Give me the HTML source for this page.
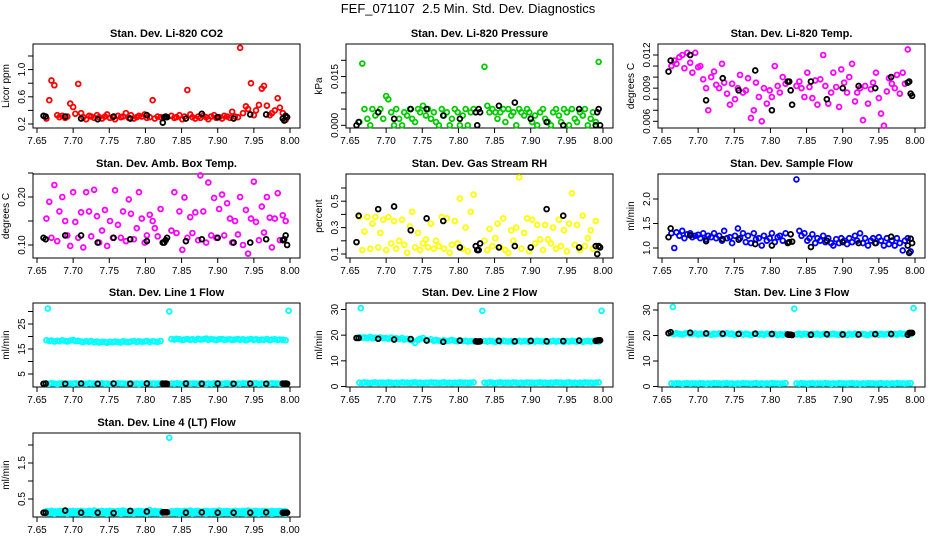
<!DOCTYPE html>
<html><head><meta charset="utf-8"><style>
html,body{margin:0;padding:0;background:#fff;}
svg{display:block;font-family:"Liberation Sans",Helvetica,sans-serif;}
</style></head><body>
<svg id="fig" width="936" height="540" viewBox="0 0 936 540" xmlns="http://www.w3.org/2000/svg">
<rect width="936" height="540" fill="#fff"/>
<text x="468" y="13" text-anchor="middle" font-size="13">FEF_071107&#160; 2.5 Min. Std. Dev. Diagnostics</text>
</svg>
<script>
const TIMES = [7.663,7.667,7.670,7.674,7.678,7.681,7.685,7.689,7.692,7.696,7.700,7.703,7.707,7.711,7.714,7.718,7.722,7.725,7.729,7.733,7.736,7.740,7.744,7.747,7.751,7.755,7.758,7.762,7.766,7.769,7.773,7.777,7.780,7.784,7.788,7.791,7.795,7.799,7.802,7.806,7.810,7.813,7.817,7.821,
7.836,7.840,7.843,7.847,7.851,7.854,7.858,7.862,7.865,7.869,7.873,7.876,7.880,7.884,7.887,7.891,7.895,7.898,7.902,7.906,7.909,7.913,7.917,7.920,7.924,7.928,7.931,7.935,7.939,7.942,7.946,7.950,7.953,7.957,7.961,7.964,7.968,7.972,7.975,7.979,7.983,7.986,7.990,7.994];
const CAL_TIMES = [7.659,7.662,7.689,7.711,7.734,7.756,7.779,7.802,7.824,7.826,7.828,7.830,7.856,7.878,7.900,7.922,7.945,7.967,7.990,7.992,7.994,7.996];
const X_TICKS = [7.65,7.70,7.75,7.80,7.85,7.90,7.95,8.00];
const X_LABELS = ["7.65","7.70","7.75","7.80","7.85","7.90","7.95","8.00"];

const CO2 = [0.28,0.55,0.84,0.77,0.33,0.30,0.32,0.29,0.31,0.50,0.45,0.35,0.79,0.36,0.30,0.27,0.32,0.31,0.29,0.33,0.30,0.28,0.31,0.34,0.29,0.30,0.27,0.32,0.30,0.31,0.36,0.29,0.33,0.28,0.30,0.32,0.31,0.34,0.29,0.30,0.55,0.28,0.31,0.30,
0.32,0.29,0.30,0.33,0.27,0.31,0.70,0.34,0.30,0.28,0.31,0.29,0.32,0.30,0.27,0.31,0.33,0.29,0.30,0.28,0.32,0.31,0.29,0.38,0.31,0.30,1.32,0.36,0.46,0.42,0.80,0.33,0.40,0.48,0.72,0.76,0.47,0.33,0.36,0.40,0.58,0.44,0.36,0.26];
const CO2_CAL = [0.32,0.31,0.31,0.28,0.27,0.31,0.28,0.33,0.22,0.30,0.31,0.30,0.28,0.35,0.30,0.28,0.34,0.34,0.28,0.25,0.32,0.30];
const CO2_TICKS = [0.2,0.4,0.6,0.8,1.0,1.2];
const CO2_LABELS = ["0.2","","0.6","","1.0",""];

const PRES = [0.001,0.019,0.005,0.002,0.000,0.005,0.003,0.004,0.005,0.002,0.009,0.008,0.004,0.000,0.005,0.002,0.000,0.004,0.003,0.005,0.002,0.001,0.005,0.004,0.006,0.003,0.005,0.002,0.004,0.001,0.000,0.005,0.003,0.004,0.000,0.002,0.005,0.004,0.000,0.003,0.005,0.000,0.004,0.005,
0.018,0.006,0.004,0.005,0.004,0.002,0.004,0.005,0.001,0.005,0.003,0.004,0.000,0.005,0.004,0.003,0.005,0.004,0.001,0.003,0.000,0.004,0.005,0.002,0.001,0.000,0.004,0.005,0.003,0.001,0.005,0.004,0.000,0.005,0.002,0.001,0.004,0.003,0.005,0.000,0.002,0.004,0.001,0.0195];
const PRES_CAL = [0.000,0.001,0.004,0.002,0.005,0.005,0.003,0.002,0.004,0.000,0.005,0.004,0.006,0.007,0.002,0.001,0.000,0.005,0.000,0.004,0.005,0.000];
const PRES_TICKS = [0,0.005,0.010,0.015,0.020];
const PRES_LABELS = ["0.000","","","0.015",""];

const TEMP = [0.0110,0.0115,0.0112,0.0118,0.0120,0.0108,0.0122,0.0113,0.0104,0.0122,0.0109,0.0110,0.0098,0.0090,0.0070,0.0100,0.0105,0.0093,0.0090,0.0112,0.0095,0.0085,0.0075,0.0094,0.0080,0.0090,0.0102,0.0086,0.0088,0.0099,0.0063,0.0070,0.0095,0.0082,0.0060,0.0090,0.0076,0.0088,0.0082,0.0110,0.0092,0.0086,0.0100,0.0094,
0.0092,0.0096,0.0090,0.0082,0.0104,0.0091,0.0081,0.0097,0.0075,0.0098,0.0120,0.0092,0.0076,0.0086,0.0104,0.0091,0.0073,0.0107,0.0095,0.0086,0.0100,0.0112,0.0078,0.0086,0.0090,0.0061,0.0092,0.0076,0.0089,0.0095,0.0104,0.0081,0.0067,0.0056,0.0087,0.0099,0.0094,0.0090,0.0102,0.0085,0.0104,0.0094,0.0125,0.0085];
const TEMP_CAL = [0.0105,0.0115,0.0120,0.0079,0.0099,0.0088,0.0106,0.0070,0.0096,0.0096,0.0088,0.0075,0.0096,0.0080,0.0090,0.0092,0.0090,0.0100,0.0095,0.0096,0.0085,0.0083];
const TEMP_TICKS = [0.006,0.007,0.008,0.009,0.010,0.011,0.012];
const TEMP_LABELS = ["0.006","","","0.009","","","0.012"];

const AMB = [0.155,0.19,0.115,0.225,0.108,0.17,0.20,0.15,0.12,0.098,0.21,0.148,0.115,0.168,0.095,0.21,0.17,0.118,0.215,0.16,0.105,0.13,0.173,0.098,0.15,0.115,0.214,0.142,0.115,0.17,0.108,0.195,0.165,0.112,0.135,0.21,0.155,0.105,0.12,0.163,0.15,0.135,0.118,0.175,
0.13,0.21,0.125,0.17,0.09,0.199,0.115,0.158,0.125,0.168,0.11,0.245,0.17,0.105,0.23,0.12,0.198,0.115,0.175,0.205,0.12,0.187,0.155,0.105,0.15,0.122,0.2,0.10,0.173,0.082,0.155,0.232,0.148,0.11,0.18,0.126,0.2,0.157,0.095,0.155,0.208,0.11,0.162,0.15];
const AMB_CAL = [0.115,0.112,0.12,0.12,0.105,0.115,0.112,0.108,0.105,0.105,0.11,0.115,0.108,0.112,0.115,0.105,0.105,0.112,0.11,0.112,0.12,0.10];
const AMB_TICKS = [0.10,0.15,0.20,0.25];
const AMB_LABELS = ["0.10","","0.20",""];

const RH = [0.38,0.13,0.27,0.38,0.14,0.33,0.38,0.15,0.26,0.36,0.13,0.38,0.18,0.35,0.14,0.20,0.36,0.17,0.11,0.31,0.42,0.15,0.26,0.13,0.18,0.21,0.15,0.33,0.14,0.20,0.16,0.38,0.14,0.37,0.11,0.17,0.35,0.18,0.52,0.14,0.30,0.12,0.42,0.55,
0.20,0.13,0.29,0.16,0.22,0.33,0.15,0.37,0.13,0.11,0.28,0.20,0.30,0.68,0.14,0.26,0.37,0.12,0.36,0.18,0.32,0.21,0.13,0.32,0.21,0.18,0.30,0.14,0.36,0.16,0.28,0.12,0.33,0.56,0.17,0.32,0.13,0.39,0.16,0.22,0.28,0.14,0.35,0.15];
const RH_CAL = [0.19,0.39,0.44,0.46,0.28,0.37,0.35,0.15,0.16,0.13,0.13,0.18,0.15,0.16,0.15,0.44,0.39,0.15,0.16,0.10,0.16,0.15];
const RH_TICKS = [0.1,0.2,0.3,0.4,0.5,0.6];
const RH_LABELS = ["0.1","","0.3","","0.5",""];

const SFLOW = [1.3,1.0,1.32,1.25,1.35,1.2,1.28,1.3,1.22,1.25,1.27,1.2,1.3,1.18,1.25,1.22,1.3,1.2,1.25,1.15,1.35,1.2,1.22,1.1,1.25,1.4,1.2,1.3,1.12,1.25,1.1,1.3,1.18,1.2,1.05,1.25,1.15,1.2,1.3,1.12,1.22,1.25,1.15,1.3,
2.4,1.35,1.25,1.3,1.15,1.2,1.28,1.1,1.2,1.15,1.25,1.12,1.2,1.1,1.05,1.18,1.1,1.2,1.15,1.08,1.2,1.12,1.25,1.15,1.3,1.1,1.2,1.05,1.15,1.2,1.1,1.22,1.15,1.05,1.2,1.08,1.15,1.05,1.2,1.1,0.95,1.15,1.2,0.93];
const SFLOW_CAL = [1.22,1.4,1.26,1.14,1.18,1.17,1.08,1.05,1.1,1.12,1.28,1.13,1.02,1.15,1.12,1.1,1.1,1.23,1.05,0.9,1.19,1.1];
const SFLOW_TICKS = [1.0,1.5,2.0];
const SFLOW_LABELS = ["1.0","1.5","2.0"];

const L1_HI = [18.5,18.2,18.4,18.0,18.3,18.1,18.5,18.2,18.0,18.4,18.6,18.2,18.3,18.0,17.8,18.1,17.9,18.2,17.7,18.0,17.6,17.9,17.8,17.5,17.9,17.7,18.0,17.8,17.6,18.1,17.9,17.7,18.0,18.2,17.8,18.1,17.9,18.0,18.2,17.8,18.1,18.0,17.9,18.2,
19.0,18.8,19.1,18.9,18.6,18.8,19.0,18.7,18.9,18.6,19.1,18.8,18.9,19.2,18.7,19.0,18.8,18.6,18.9,19.0,18.7,18.8,18.9,18.6,18.8,19.0,18.7,18.9,18.5,18.8,19.0,18.7,18.9,18.6,18.8,18.7,19.0,18.5,18.8,18.9,18.6,18.8,18.7,18.5];
const L1_LO = [1.2,1.1,1.3,1.2,1.0,1.2,1.3,1.1,1.2,1.2,1.1,1.3,1.2,1.0,1.2,1.1,1.3,1.2,1.2,1.1,1.2,1.3,1.1,1.2,1.0,1.2,1.1,1.3,1.2,1.2,1.1,1.2,1.3,1.1,1.2,1.0,1.2,1.1,1.3,1.2,1.2,1.1,1.2,1.3,
1.2,1.1,1.3,1.2,1.0,1.2,1.3,1.1,1.2,1.2,1.1,1.3,1.2,1.0,1.2,1.1,1.3,1.2,1.2,1.1,1.2,1.3,1.1,1.2,1.0,1.2,1.1,1.3,1.2,1.2,1.1,1.2,1.3,1.1,1.2,1.0,1.2,1.1,1.3,1.2,1.2,1.1,1.2,1.3];
const L1_OUT_T = [7.665,7.833,7.998];
const L1_OUT_V = [31.2,30.0,30.3];
const L1_CAL = [1.1,1.2,1.1,1.2,1.1,1.2,1.1,1.2,1.2,1.1,1.2,1.1,1.2,1.1,1.2,1.1,1.2,1.1,1.2,1.1,1.2,1.1];
const L1_TICKS = [5,10,15,20,25,30];
const L1_LABELS = ["5","","15","","25",""];

const L2_HI = [19.2,19.0,19.1,18.9,19.3,18.8,19.0,18.7,19.1,18.8,18.9,18.6,19.0,18.7,18.8,18.5,18.9,18.3,18.6,18.2,17.9,17.0,18.1,18.6,18.9,18.2,18.0,18.4,17.8,18.1,17.9,17.6,18.0,17.7,17.9,18.1,17.8,17.6,17.9,17.7,17.8,17.5,17.7,17.6,
17.7,17.5,17.8,17.6,17.4,17.7,17.5,17.8,17.6,17.5,17.7,17.4,17.6,17.8,17.5,17.7,17.6,17.4,17.7,17.5,17.8,17.6,17.5,17.7,17.4,17.6,17.8,17.5,17.7,17.6,17.4,17.7,17.5,17.8,17.6,17.5,17.7,17.4,17.6,17.8,17.5,17.7,17.6,17.5];
const L2_LO = [1.5,1.4,1.6,1.5,1.3,1.5,1.6,1.4,1.5,1.5,1.4,1.6,1.5,1.3,1.5,1.4,1.6,1.5,1.5,1.4,1.5,1.6,1.4,1.5,1.3,1.5,1.4,1.6,1.5,1.5,1.4,1.5,1.6,1.4,1.5,1.3,1.5,1.4,1.6,1.5,1.5,1.4,1.5,1.6,
1.5,1.4,1.6,1.5,1.3,1.5,1.6,1.4,1.5,1.5,1.4,1.6,1.5,1.3,1.5,1.4,1.6,1.5,1.5,1.4,1.5,1.6,1.4,1.5,1.3,1.5,1.4,1.6,1.5,1.5,1.4,1.5,1.6,1.4,1.5,1.3,1.5,1.4,1.6,1.5,1.5,1.4,1.5,1.6];
const L2_OUT_T = [7.665,7.833,7.998];
const L2_OUT_V = [30.5,29.5,29.5];
const L2_CAL = [18.9,18.9,18.6,18.3,18.5,17.9,17.4,17.9,17.6,17.5,17.5,17.6,17.8,17.6,17.8,17.6,17.7,17.9,17.8,17.9,18.0,18.0];
const L23_TICKS = [0,10,20,30];
const L23_LABELS = ["0","10","20","30"];

const L3_HI = [20.8,20.5,20.9,20.6,20.4,20.7,20.9,20.5,20.6,20.8,20.4,20.7,20.5,20.9,20.6,20.3,20.7,20.5,20.8,20.4,20.6,20.9,20.5,20.7,20.3,20.6,20.8,20.4,20.7,20.5,20.2,20.6,20.8,20.4,20.6,20.3,20.7,20.5,20.4,20.6,20.2,20.5,20.3,20.6,
20.4,20.7,20.3,20.6,20.5,20.2,20.6,20.4,20.7,20.3,20.5,20.6,20.2,20.5,20.7,20.4,20.3,20.6,20.5,20.2,20.6,20.4,20.7,20.3,20.5,20.6,20.4,20.2,20.6,20.5,20.7,20.3,20.6,20.4,20.5,20.7,20.3,20.6,20.4,20.8,20.5,20.6,20.7,20.5];
const L3_LO = [1.2,1.1,1.3,1.2,1.0,1.2,1.3,1.1,1.2,1.2,1.1,1.3,1.2,1.0,1.2,1.1,1.3,1.2,1.2,1.1,1.2,1.3,1.1,1.2,1.0,1.2,1.1,1.3,1.2,1.2,1.1,1.2,1.3,1.1,1.2,1.0,1.2,1.1,1.3,1.2,1.2,1.1,1.2,1.3,
1.2,1.1,1.3,1.2,1.0,1.2,1.3,1.1,1.2,1.2,1.1,1.3,1.2,1.0,1.2,1.1,1.3,1.2,1.2,1.1,1.2,1.3,1.1,1.2,1.0,1.2,1.1,1.3,1.2,1.2,1.1,1.2,1.3,1.1,1.2,1.0,1.2,1.1,1.3,1.2,1.2,1.1,1.2,1.3];
const L3_OUT_T = [7.665,7.833,7.998];
const L3_OUT_V = [31.2,30.5,30.7];
const L3_CAL = [20.9,21.3,21.1,20.8,20.7,20.6,20.7,20.6,20.4,20.3,20.3,20.2,20.3,20.5,20.4,20.4,20.5,20.6,20.3,21.0,21.0,21.0];

const L4_HI = [0.16,0.15,0.17,0.16,0.15,0.17,0.16,0.18,0.15,0.16,0.17,0.15,0.16,0.17,0.16,0.15,0.17,0.16,0.18,0.15,0.16,0.17,0.15,0.16,0.17,0.16,0.15,0.17,0.16,0.18,0.15,0.16,0.17,0.15,0.16,0.17,0.16,0.15,0.17,0.19,0.16,0.17,0.15,0.16,
0.16,0.15,0.17,0.16,0.15,0.17,0.16,0.18,0.15,0.16,0.17,0.15,0.16,0.17,0.16,0.15,0.17,0.16,0.18,0.15,0.16,0.17,0.15,0.16,0.17,0.16,0.15,0.17,0.16,0.18,0.15,0.16,0.17,0.15,0.16,0.17,0.16,0.15,0.17,0.16,0.16,0.17,0.15,0.16];
const L4_LO = [0.10,0.11,0.10,0.09,0.11,0.10,0.10,0.11,0.09,0.10,0.11,0.10,0.10,0.09,0.11,0.10,0.11,0.10,0.09,0.10,0.11,0.10,0.10,0.09,0.11,0.10,0.11,0.10,0.09,0.10,0.11,0.10,0.10,0.09,0.11,0.10,0.11,0.10,0.09,0.10,0.11,0.10,0.10,0.09,
0.10,0.11,0.10,0.09,0.11,0.10,0.10,0.11,0.09,0.10,0.11,0.10,0.10,0.09,0.11,0.10,0.11,0.10,0.09,0.10,0.11,0.10,0.10,0.09,0.11,0.10,0.11,0.10,0.09,0.10,0.11,0.10,0.10,0.09,0.11,0.10,0.11,0.10,0.09,0.10,0.11,0.10,0.10,0.09];
const L4_OUT_T = [7.833];
const L4_OUT_V = [2.2];
const L4_CAL = [0.12,0.12,0.18,0.12,0.12,0.11,0.17,0.15,0.13,0.13,0.13,0.13,0.12,0.13,0.12,0.12,0.12,0.13,0.12,0.12,0.12,0.12];
const L4_TICKS = [0.5,1.0,1.5,2.0];
const L4_LABELS = ["0.5","","1.5",""];

const NS = "http://www.w3.org/2000/svg";
const svg = document.getElementById('fig');
function mk(tag, attrs, parent){ const e=document.createElementNS(NS,tag); for(const k in attrs) e.setAttribute(k,attrs[k]); (parent||svg).appendChild(e); return e; }

const COLS=[33,346,658], ROWS=[44,174,303,433], W=267, H=84;
const panels = [
 {name:"co2",title:"Stan. Dev. Li-820 CO2",ylab:"Licor ppm",c:0,r:0,color:"#ff0000",series:[CO2],cal:CO2_CAL,ticks:CO2_TICKS,labels:CO2_LABELS,v1:0.2,p1:124,v2:1.2,p2:56},
 {name:"pressure",title:"Stan. Dev. Li-820 Pressure",ylab:"kPa",c:1,r:0,color:"#00cc00",series:[PRES],cal:PRES_CAL,ticks:PRES_TICKS,labels:PRES_LABELS,v1:0,p1:125.3,v2:0.02,p2:60.3},
 {name:"li820-temp",title:"Stan. Dev. Li-820 Temp.",ylab:"degrees C",c:2,r:0,color:"#ff00ff",series:[TEMP],cal:TEMP_CAL,ticks:TEMP_TICKS,labels:TEMP_LABELS,v1:0.006,p1:121.3,v2:0.012,p2:55},
 {name:"amb-box-temp",title:"Stan. Dev. Amb. Box Temp.",ylab:"degrees C",c:0,r:1,color:"#ff00ff",series:[AMB],cal:AMB_CAL,ticks:AMB_TICKS,labels:AMB_LABELS,v1:0.10,p1:245,v2:0.20,p2:197},
 {name:"gas-stream-rh",title:"Stan. Dev. Gas Stream RH",ylab:"percent",c:1,r:1,color:"#ffff00",series:[RH],cal:RH_CAL,ticks:RH_TICKS,labels:RH_LABELS,v1:0.1,p1:254,v2:0.6,p2:188},
 {name:"sample-flow",title:"Stan. Dev. Sample Flow",ylab:"ml/min",c:2,r:1,color:"#0000ff",series:[SFLOW],cal:SFLOW_CAL,ticks:SFLOW_TICKS,labels:SFLOW_LABELS,v1:1.0,p1:248,v2:2.0,p2:199},
 {name:"line1-flow",title:"Stan. Dev. Line 1 Flow",ylab:"ml/min",c:0,r:2,color:"#00ffff",series:[L1_HI,L1_LO],outT:L1_OUT_T,outV:L1_OUT_V,cal:L1_CAL,ticks:L1_TICKS,labels:L1_LABELS,v1:5,p1:374,v2:30,p2:311.5},
 {name:"line2-flow",title:"Stan. Dev. Line 2 Flow",ylab:"ml/min",c:1,r:2,color:"#00ffff",series:[L2_HI,L2_LO],outT:L2_OUT_T,outV:L2_OUT_V,cal:L2_CAL,ticks:L23_TICKS,labels:L23_LABELS,v1:0,p1:386.5,v2:30,p2:309.5},
 {name:"line3-flow",title:"Stan. Dev. Line 3 Flow",ylab:"ml/min",c:2,r:2,color:"#00ffff",series:[L3_HI,L3_LO],outT:L3_OUT_T,outV:L3_OUT_V,cal:L3_CAL,ticks:L23_TICKS,labels:L23_LABELS,v1:0,p1:386.5,v2:30,p2:310},
 {name:"line4-flow",title:"Stan. Dev. Line 4 (LT) Flow",ylab:"ml/min",c:0,r:3,color:"#00ffff",series:[L4_HI,L4_LO],outT:L4_OUT_T,outV:L4_OUT_V,cal:L4_CAL,ticks:L4_TICKS,labels:L4_LABELS,v1:0.5,p1:499,v2:2.0,p2:445}
];

panels.forEach(p=>{
  const L=COLS[p.c], T=ROWS[p.r];
  const g=mk('g',{});
  
  
  const xs = t => L+4 + (t-7.65)*(253/0.35);
  const ys = v => p.p1 + (v-p.v1)*(p.p2-p.p1)/(p.v2-p.v1);
  const title=mk('text',{x:L+W/2,y:T-7,'text-anchor':'middle','font-size':11,'font-weight':'bold'},g);
  title.textContent=p.title;
  
  
  const box=mk('rect',{x:L,y:T,width:W,height:H,fill:'none',stroke:'#000','stroke-width':1},g);
  
  
  const xa=mk('g',{},g);
  
  
  mk('line',{x1:xs(X_TICKS[0]),x2:xs(X_TICKS[X_TICKS.length-1]),y1:T+H,y2:T+H,stroke:'#000'},xa);
  X_TICKS.forEach((t,i)=>{
    mk('line',{x1:xs(t),x2:xs(t),y1:T+H,y2:T+H+5,stroke:'#000'},xa);
    const lb=mk('text',{x:xs(t),y:T+H+16,'text-anchor':'middle','font-size':10},xa);
    lb.textContent=X_LABELS[i];
    
    
  });
  const ya=mk('g',{},g);
  
  
  mk('line',{x1:L,x2:L,y1:ys(p.ticks[0]),y2:ys(p.ticks[p.ticks.length-1]),stroke:'#000'},ya);
  p.ticks.forEach((v,i)=>{
    const y=ys(v);
    mk('line',{x1:L-5,x2:L,y1:y,y2:y,stroke:'#000'},ya);
    if(p.labels[i]){
      const lb=mk('text',{x:L-8,y:y,'text-anchor':'middle','font-size':10,transform:`rotate(-90 ${L-8} ${y})`},ya);
      lb.textContent=p.labels[i];
      
      
    }
  });
  const yl=mk('text',{x:L-24,y:T+H/2,'text-anchor':'middle','font-size':10,transform:`rotate(-90 ${L-24} ${T+H/2})`},g);
  yl.textContent=p.ylab;
  
  
  p.series.forEach(arr=>{
    arr.forEach((v,i)=>{
      const c=mk('circle',{cx:xs(TIMES[i]),cy:ys(v),r:2.4,fill:'none',stroke:p.color,'stroke-width':1.8},g);
      
      
    });
  });
  if(p.outT){
    p.outT.forEach((t,i)=>{
      const c=mk('circle',{cx:xs(t),cy:ys(p.outV[i]),r:2.4,fill:'none',stroke:p.color,'stroke-width':1.8},g);
      
      
    });
  }
  p.cal.forEach((v,i)=>{
    const c=mk('circle',{cx:xs(CAL_TIMES[i]),cy:ys(v),r:2.4,fill:'none',stroke:'#000','stroke-width':1.8},g);
    
    
  });
});
</script>
</body></html>
